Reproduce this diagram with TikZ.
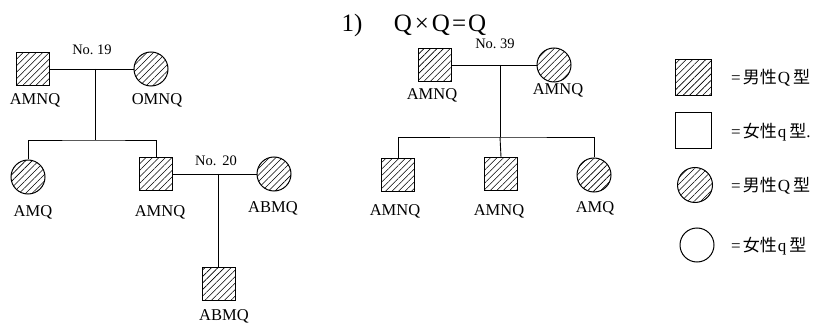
\documentclass[tikz,border=0pt]{standalone}
\usepackage{fontspec}
\setmainfont{Liberation Serif}
\newfontfamily\cjk{Noto Sans CJK JP}
\usetikzlibrary{patterns.meta}
\tikzset{
  male/.style={draw, line width=1pt, minimum size=33pt, inner sep=0pt, pattern={Lines[angle=45,distance=4.6pt,line width=0.55pt]}},
  female/.style={draw, circle, line width=1pt, minimum size=34pt, inner sep=0pt, pattern={Lines[angle=45,distance=4.6pt,line width=0.55pt]}},
  emptysq/.style={draw, line width=1pt, minimum size=36pt, inner sep=0pt},
  emptyci/.style={draw, circle, line width=1pt, minimum size=34pt, inner sep=0pt},
  lab/.style={anchor=base, inner sep=0pt, font=\fontsize{16.5}{16.5}\selectfont},
  numlab/.style={anchor=base, inner sep=0pt, font=\fontsize{14.5}{14.5}\selectfont},
  leg/.style={anchor=west, inner sep=0pt, font=\fontsize{17}{17}\selectfont},
  link/.style={line width=0.9pt}
}
\begin{document}
\begin{tikzpicture}[x=1pt,y=-1pt]
\useasboundingbox (0,0) rectangle (819,323);
% ---- left family ----
\node[male] (sqA) at (33,69) {};
\node[female] (ciA) at (151,69) {};
\coordinate (mA) at (95,69);
\coordinate (sA) at (95,140);
\node[female] (c1) at (28,177) {};
\node[male] (sqB) at (156,174) {};
\node[female] (ciB) at (274,174) {};
\coordinate (mB) at (218,174);
\node[male] (sqC) at (219,284) {};
\draw[link] (sqA) -- (ciA);
\draw[link] (mA) -- (sA);
\draw[link] (c1.north) |- (sA) -| (sqB.north);
\draw[link] (sqB) -- (ciB);
\draw[link] (mB) -- (mB |- sqC.north);
\node[numlab] (n19) at (92,55) {No.\ 19};
\node[numlab] (n20) at (216,166) {No.\ \,20};
\node[lab] (lA1) at (35,105) {AMNQ};
\node[lab] (lA2) at (157,105) {OMNQ};
\node[lab] (lc1) at (33,216) {AMQ};
\node[lab] (lB1) at (160,216) {AMNQ};
\node[lab] (lB2) at (273,212) {ABMQ};
\node[lab] (lC) at (224,320) {ABMQ};
% ---- middle family ----
\node[anchor=base, inner sep=0pt, font=\fontsize{25}{25}\selectfont] (t1) at (352,32) {1)};
\node[anchor=base, inner sep=0pt, font=\fontsize{25}{25}\selectfont] (t2) at (440,32) {Q\hspace{3pt}×\hspace{3pt}Q\hspace{2pt}=\hspace{2pt}Q};
\node[male] (sqD) at (435,65) {};
\node[female] (ciD) at (554,65) {};
\coordinate (mD) at (500,65);
\coordinate (sD) at (500,137);
\node[male] (k1) at (398,175) {};
\node[male] (k2) at (501,174) {};
\node[female] (k3) at (594,175) {};
\draw[link] (sqD) -- (ciD);
\draw[link] (mD) -- (sD);
\draw[link] (k1.north) |- (sD) -| (k3.north);
\draw[link] (sD) -- (k2.north);
\node[numlab] (n39) at (495,49) {No.\ 39};
\node[lab] (lD1) at (432,100) {AMNQ};
\node[lab] (lD2) at (558,95) {AMNQ};
\node[lab] (lk1) at (395,215) {AMNQ};
\node[lab] (lk2) at (499,215) {AMNQ};
\node[lab] (lk3) at (595,213) {AMQ};
% ---- legend ----
\node[male, minimum size=36pt] (L1) at (693,78) {};
\node[emptysq] (L2) at (693,131) {};
\node[female, minimum size=35pt] (L3) at (695,185) {};
\node[emptyci] (L4) at (697,245) {};
\node[leg] (T1) at (731,78) {=\hspace{2pt}{\cjk 男性}\hspace{1pt}Q\hspace{3pt}{\cjk 型}};
\node[leg] (T2) at (731,132) {=\hspace{2pt}{\cjk 女性}\hspace{1pt}q\hspace{3pt}{\cjk 型}.};
\node[leg] (T3) at (731,186) {=\hspace{2pt}{\cjk 男性}\hspace{1pt}Q\hspace{3pt}{\cjk 型}};
\node[leg] (T4) at (731,246) {=\hspace{2pt}{\cjk 女性}\hspace{1pt}q\hspace{3pt}{\cjk 型}};
\end{tikzpicture}
\end{document}
